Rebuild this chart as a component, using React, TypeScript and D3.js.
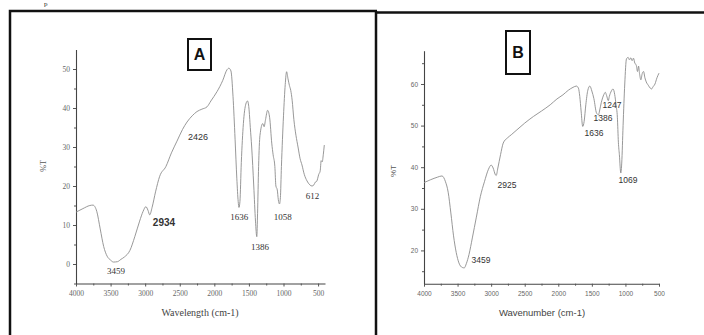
import React, { useEffect, useRef } from 'react'
import * as d3 from 'd3'

// Spectrum A: wavenumber (cm-1) and %T
const waveA = [4000, 3900, 3800, 3754, 3700, 3650, 3600, 3550, 3500, 3459, 3400, 3350, 3300, 3220, 3150, 3080, 3030, 2990, 2960, 2934, 2900, 2850, 2790, 2700, 2620, 2540, 2460, 2395, 2320, 2250, 2180, 2106, 2050, 1961, 1880, 1817, 1790, 1760, 1730, 1700, 1675, 1655, 1644, 1630, 1610, 1580, 1545, 1520, 1500, 1480, 1460, 1430, 1405, 1386, 1375, 1360, 1340, 1300, 1280, 1260, 1230, 1200, 1170, 1150, 1125, 1110, 1090, 1075, 1058, 1045, 1030, 1000, 975, 955, 935, 915, 895, 875, 850, 820, 790, 760, 733, 700, 660, 620, 588, 560, 540, 520, 490, 470, 455, 440, 425, 410]
const transA = [13.3, 14.2, 15, 15.1, 13.5, 9, 4.5, 2, 1, 0.5, 0.6, 1.2, 1.8, 3.5, 7, 11, 13.5, 14.7, 13.8, 12.6, 14.5, 18.5, 22.5, 25, 28.5, 31.5, 34.5, 36.4, 38, 39.1, 39.7, 40.3, 41.8, 44.2, 47, 49.8, 50.2, 49.5, 43, 32, 22, 16, 14.5, 16, 26, 36, 41, 41.8, 40, 35, 30, 20, 11, 7, 13, 25, 33, 36, 35.2, 37, 39.4, 37.5, 31, 28, 25, 20, 19, 16.5, 15.4, 17, 25, 38, 46, 49.3, 47.5, 45.8, 44.5, 42, 37, 33, 30, 27, 25.4, 23, 21.3, 20.3, 20, 20.3, 21, 21.2, 23, 23.8, 26.5, 26.2, 28, 30.5]

// Spectrum B
const waveB = [4000, 3900, 3800, 3732, 3680, 3640, 3600, 3560, 3520, 3480, 3430, 3400, 3370, 3330, 3280, 3220, 3160, 3100, 3040, 3000, 2970, 2940, 2925, 2900, 2860, 2820, 2760, 2700, 2615, 2500, 2370, 2250, 2120, 2020, 1930, 1850, 1780, 1730, 1700, 1680, 1660, 1636, 1615, 1590, 1560, 1530, 1500, 1470, 1430, 1400, 1386, 1360, 1320, 1300, 1280, 1255, 1240, 1210, 1185, 1160, 1140, 1120, 1105, 1090, 1069, 1055, 1035, 1010, 985, 960, 940, 920, 900, 880, 860, 840, 820, 805, 790, 770, 750, 730, 710, 690, 660, 630, 610, 590, 560, 530, 500]
const transB = [36.3, 37, 37.6, 37.9, 36.5, 34, 29, 23.5, 19.5, 17, 15.9, 15.8, 16.8, 19, 23, 28, 33, 36.5, 39.5, 40.5, 39.8, 38.3, 38, 39.8, 43, 45.8, 47, 47.8, 49, 50.6, 52.2, 53.5, 55, 56.4, 57.4, 58.5, 59.2, 59.5, 59, 57, 53.5, 49.8, 51, 55, 58.5, 59.5, 58.3, 56.5, 53, 52.6, 53.5, 55.5, 57.5, 58, 57.2, 56, 57, 58.3, 58.8, 57.5, 55, 52, 46, 43, 38.6, 41, 50, 60, 66, 66.4, 65.8, 66.3, 65.6, 66.2, 65, 64.6, 63, 64.3, 62.5, 61, 62.5, 63, 61.5, 60.5, 59.7, 59, 58.8, 59.3, 60, 61.5, 62.6]

const xTicks = [4000, 3500, 3000, 2500, 2000, 1500, 1000, 500]
const yTicksA = [0, 10, 20, 30, 40, 50]
const yTicksB = [20, 30, 40, 50, 60]

// peak labels [text, wavenumber, %T at baseline]
const peaksA: [string, number, number][] = [
  ['3459', 3420, -2.6], ['2934', 2728, 9.7], ['2426', 2236, 31.8],
  ['1636', 1640, 11.3], ['1386', 1340, 3.5], ['1058', 1010, 11.3], ['612', 580, 16.7],
]
const peaksB: [string, number, number][] = [
  ['3459', 3151, 17], ['2925', 2764, 35], ['1636', 1468, 47.5],
  ['1386', 1334, 51.1], ['1247', 1200, 54.2], ['1069', 962, 36.2],
]

const App: React.FC = () => {
  const ref = useRef<SVGSVGElement | null>(null)

  useEffect(() => {
    if (!ref.current) return
    const svg = d3.select(ref.current)
    svg.selectAll('*').remove()

    // frames
    svg.append('path').attr('d', 'M10,335V11H377').attr('fill', 'none')
      .attr('stroke', '#111').attr('stroke-width', 2.5)
    svg.append('line').attr('x1', 376).attr('x2', 376).attr('y1', 11).attr('y2', 335)
      .attr('stroke', '#111').attr('stroke-width', 2.5)
    svg.append('line').attr('x1', 376).attr('x2', 704).attr('y1', 12.5).attr('y2', 12.5)
      .attr('stroke', '#111').attr('stroke-width', 2.5)
    svg.append('text').attr('x', 44).attr('y', 6).attr('font-family', 'Liberation Serif')
      .attr('font-size', 7).attr('fill', '#222').text('p')

    const drawPanel = (o: {
      wave: number[], trans: number[], xDom: [number, number], xRange: [number, number],
      yDom: [number, number], yRange: [number, number], yTicks: number[],
      font: string, tickSize: number, title: string, titleSize: number, titleX: number,
      yLabelX: number, yLabelY: number, peaks: [string, number, number][], peakFont: string,
      peakSize: number,
    }) => {
      const x = d3.scaleLinear().domain(o.xDom).range(o.xRange)
      const y = d3.scaleLinear().domain(o.yDom).range(o.yRange)
      const g = svg.append('g')

      const minorX = d3.range(o.xDom[0], o.xDom[1] - 1, -250).filter(v => v % 500 !== 0)
      const minorY = d3.range(Math.ceil(o.yDom[0] / 5) * 5, o.yDom[1], 5).filter(v => v % 10 !== 0)

      const xa = g.append('g').attr('transform', `translate(0,${o.yRange[0]})`)
        .call(d3.axisBottom(x).tickValues(xTicks).tickSize(3).tickSizeOuter(0).tickFormat(d3.format('d')))
      g.append('g').attr('transform', `translate(0,${o.yRange[0]})`)
        .call(d3.axisBottom(x).tickValues(minorX).tickSize(2).tickSizeOuter(0).tickFormat(() => ''))
        .select('.domain').remove()
      const ya = g.append('g').attr('transform', `translate(${o.xRange[0]},0)`)
        .call(d3.axisLeft(y).tickValues(o.yTicks).tickSize(3).tickSizeOuter(0))
      g.append('g').attr('transform', `translate(${o.xRange[0]},0)`)
        .call(d3.axisLeft(y).tickValues(minorY).tickSize(2).tickSizeOuter(0).tickFormat(() => ''))
        .select('.domain').remove()

      g.selectAll('.domain').attr('stroke', '#444').attr('stroke-width', 1.1)
      g.selectAll('.tick line').attr('stroke', '#555')
      ;[xa, ya].forEach(a => a.selectAll('text').attr('font-family', o.font)
        .attr('font-size', o.tickSize).attr('fill', '#666'))
      xa.selectAll('text').attr('dy', '0.9em')

      g.append('path').datum(o.wave.map((w, i) => [w, o.trans[i]] as [number, number]))
        .attr('fill', 'none').attr('stroke', '#8c8c8c').attr('stroke-width', 0.9)
        .attr('d', d3.line<[number, number]>().x(d => x(d[0])).y(d => y(d[1])).curve(d3.curveMonotoneX))

      g.append('text').attr('x', o.titleX).attr('y', 316).attr('text-anchor', 'middle')
        .attr('font-family', o.font).attr('font-size', o.titleSize).attr('fill', '#444').text(o.title)
      g.append('text').attr('transform', `translate(${o.yLabelX},${o.yLabelY}) rotate(-90)`)
        .attr('text-anchor', 'middle').attr('font-family', o.font).attr('font-size', 8)
        .attr('fill', '#555').text('%T')

      o.peaks.forEach(([t, w, v]) => {
        g.append('text').attr('x', x(w)).attr('y', y(v)).attr('text-anchor', 'middle')
          .attr('font-family', t === '2934' || t === '2426' ? 'Liberation Sans' : o.peakFont)
          .attr('font-weight', t === '2934' ? 'bold' : 'normal')
          .attr('font-size', t === '2934' ? 10 : o.peakSize).attr('fill', '#333').text(t)
      })
    }

    drawPanel({
      wave: waveA, trans: transA, xDom: [4000, 400], xRange: [76, 325],
      yDom: [-5, 55], yRange: [283.5, 49.5], yTicks: yTicksA,
      font: 'Liberation Serif', tickSize: 7.5, title: 'Wavelength (cm-1)', titleSize: 10,
      titleX: 200, yLabelX: 46, yLabelY: 166, peaks: peaksA, peakFont: 'Liberation Serif', peakSize: 9,
    })
    drawPanel({
      wave: waveB, trans: transB, xDom: [4000, 500], xRange: [424, 659],
      yDom: [12, 68], yRange: [283.7, 50.7], yTicks: yTicksB,
      font: 'Liberation Sans', tickSize: 6.5, title: 'Wavenumber (cm-1)', titleSize: 9.5,
      titleX: 542, yLabelX: 396, yLabelY: 171, peaks: peaksB, peakFont: 'Liberation Sans', peakSize: 8.5,
    })

    // panel badges
    const badges: [string, number, number, number, number][] = [['A', 188, 39, 23, 31], ['B', 506, 31, 24, 43]]
    badges.forEach(([t, bx, by, bw, bh]) => {
      svg.append('rect').attr('x', bx).attr('y', by).attr('width', bw).attr('height', bh)
        .attr('fill', 'white').attr('stroke', '#111').attr('stroke-width', 2)
      svg.append('text').attr('x', bx + bw / 2).attr('y', by + bh / 2 + 5.5).attr('text-anchor', 'middle')
        .attr('font-family', 'Liberation Sans').attr('font-weight', 'bold').attr('font-size', 16)
        .attr('fill', '#111').text(t)
    })
  }, [])

  return (
    <div style={{ position: 'fixed', left: 0, top: 0 }}>
      <svg ref={ref} width={704} height={335} style={{ display: 'block', background: 'white' }} />
    </div>
  )
}

export default App
